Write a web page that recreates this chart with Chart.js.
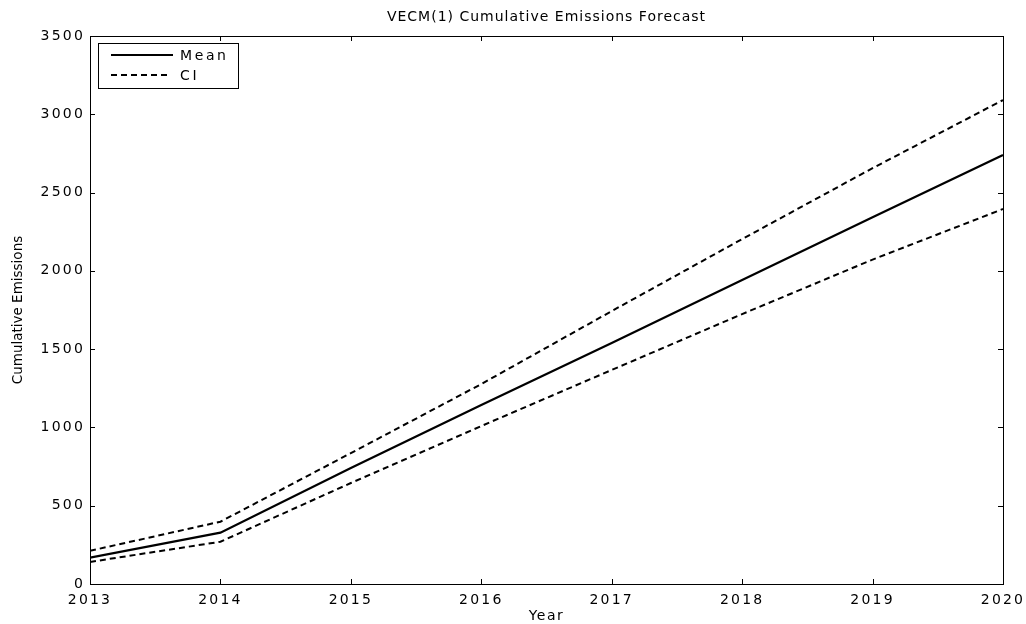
<!DOCTYPE html>
<html>
<head>
<meta charset="utf-8">
<title>VECM(1) Cumulative Emissions Forecast</title>
<script src="https://cdn.jsdelivr.net/npm/chart.js@4.4.1/dist/chart.umd.min.js"></script>
<style>
  html, body { margin: 0; padding: 0; background: #ffffff; }
  #wrap { width: 1026px; height: 624px; }
</style>
</head>
<body>
<div id="wrap"><canvas id="chart" width="1026" height="624"></canvas></div>
<script>
// Forecast horizon (years)
const years = [2013, 2014, 2015, 2016, 2017, 2018, 2019, 2020];
// Mean cumulative emissions path
const meanEmissions = [168, 328, 741, 1143, 1539, 1941, 2343, 2740];
// Upper and lower confidence bounds
const upperCI = [212, 398, 836, 1277, 1743, 2203, 2656, 3091];
const lowerCI = [141, 270, 645, 1009, 1367, 1724, 2072, 2395];
// Axis ticks
const xTicks = [2013, 2014, 2015, 2016, 2017, 2018, 2019, 2020];
const yTicks = [0, 500, 1000, 1500, 2000, 2500, 3000, 3500];

const FONT = '"DejaVu Sans", Verdana, sans-serif';
const DASH = [6, 4];

const toPoints = (vals) => years.map((yr, i) => ({ x: yr, y: vals[i] }));

// Boxed axes with inward tick marks, titles and an inset legend
const boxedAxes = {
  id: 'boxedAxes',
  beforeDraw(chart) {
    const ctx = chart.ctx;
    ctx.fillStyle = '#ffffff';
    ctx.fillRect(0, 0, chart.width, chart.height);
    ctx.letterSpacing = '2.2px';
  },
  afterDatasetsDraw(chart) {
    const { ctx, chartArea: a, scales: { x, y } } = chart;
    ctx.save();
    ctx.strokeStyle = '#000000';
    ctx.lineWidth = 1;
    ctx.setLineDash([]);
    ctx.strokeRect(Math.round(a.left) + 0.5, Math.round(a.top) + 0.5,
                   Math.round(a.right - a.left), Math.round(a.bottom - a.top));
    const len = 5;
    ctx.beginPath();
    xTicks.forEach(v => {
      const px = Math.round(x.getPixelForValue(v)) + 0.5;
      ctx.moveTo(px, a.bottom); ctx.lineTo(px, a.bottom - len);
      ctx.moveTo(px, a.top); ctx.lineTo(px, a.top + len);
    });
    yTicks.forEach(v => {
      const py = Math.round(y.getPixelForValue(v)) + 0.5;
      ctx.moveTo(a.left, py); ctx.lineTo(a.left + len, py);
      ctx.moveTo(a.right, py); ctx.lineTo(a.right - len, py);
    });
    ctx.stroke();

    // Titles
    ctx.fillStyle = '#000000';
    ctx.textBaseline = 'middle';
    ctx.textAlign = 'center';
    ctx.letterSpacing = '1px';
    ctx.font = '14px ' + FONT;
    ctx.fillText('VECM(1) Cumulative Emissions Forecast', (a.left + a.right) / 2, 17);
    ctx.letterSpacing = '1.5px';
    ctx.fillText('Year', (a.left + a.right) / 2, 616);
    ctx.save();
    ctx.translate(18, (a.top + a.bottom) / 2);
    ctx.rotate(-Math.PI / 2);
    ctx.letterSpacing = '0px';
    ctx.font = '13.5px ' + FONT;
    ctx.fillText('Cumulative Emissions', 0, 0);
    ctx.restore();

    // Legend
    const lx = 98.5, ly = 43.5, lw = 140, lh = 45;
    ctx.fillStyle = '#ffffff';
    ctx.fillRect(lx, ly, lw, lh);
    ctx.strokeStyle = '#000000';
    ctx.lineWidth = 1;
    ctx.strokeRect(lx, ly, lw, lh);
    const ds = chart.data.datasets;
    const entries = [ds[0], ds[1]];
    entries.forEach((d, i) => {
      const yy = 55 + i * 20;
      ctx.beginPath();
      ctx.lineWidth = d.borderWidth;
      ctx.setLineDash(d.borderDash || []);
      ctx.moveTo(111, yy);
      ctx.lineTo(i === 0 ? 173 : 169, yy);
      ctx.stroke();
      ctx.setLineDash([]);
      ctx.fillStyle = '#000000';
      ctx.textAlign = 'left';
      ctx.letterSpacing = '2.6px';
      ctx.font = '14px ' + FONT;
      ctx.fillText(d.label, 180, yy + 1);
    });
    ctx.restore();
  }
};

new Chart(document.getElementById('chart'), {
  type: 'line',
  data: {
    datasets: [
      { label: 'Mean', data: toPoints(meanEmissions), borderColor: '#000000',
        borderWidth: 2.2, pointRadius: 0, tension: 0, fill: false },
      { label: 'CI', data: toPoints(upperCI), borderColor: '#000000',
        borderWidth: 2, borderDash: DASH, pointRadius: 0, tension: 0, fill: false },
      { label: 'CI', data: toPoints(lowerCI), borderColor: '#000000',
        borderWidth: 2, borderDash: DASH, pointRadius: 0, tension: 0, fill: false }
    ]
  },
  options: {
    responsive: false,
    animation: false,
    devicePixelRatio: 1,
    layout: { padding: { left: 0, right: 23, top: 36, bottom: 0 } },
    plugins: { legend: { display: false }, title: { display: false }, tooltip: { enabled: false } },
    scales: {
      x: {
        type: 'linear', min: 2013, max: 2020,
        grid: { display: false, drawTicks: false },
        border: { display: false },
        afterBuildTicks: (s) => { s.ticks = xTicks.map(v => ({ value: v })); },
        afterFit: (s) => { s.height = 40; s.paddingLeft = 0; s.paddingRight = 0; },
        ticks: { color: '#000000', font: { family: FONT, size: 14 }, padding: 8,
                 maxRotation: 0, autoSkip: false, callback: (v) => String(v) }
      },
      y: {
        min: 0, max: 3500,
        grid: { display: false, drawTicks: false },
        border: { display: false },
        afterBuildTicks: (s) => { s.ticks = yTicks.map(v => ({ value: v })); },
        afterFit: (s) => { s.width = 90; s.paddingTop = 0; s.paddingBottom = 0; },
        ticks: { color: '#000000', font: { family: FONT, size: 14 }, padding: 5,
                 autoSkip: false, callback: (v) => String(v) }
      }
    }
  },
  plugins: [boxedAxes]
});
</script>
</body>
</html>
